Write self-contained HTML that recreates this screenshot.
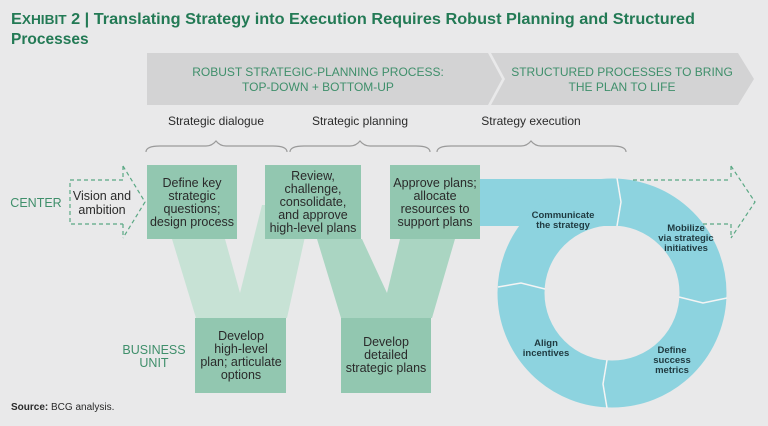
<!DOCTYPE html>
<html><head><meta charset="utf-8"><style>
html,body{margin:0;padding:0;background:#e9e9ea;}
body{width:768px;height:421px;overflow:hidden;font-family:"Liberation Sans",sans-serif;}
svg text{font-family:"Liberation Sans",sans-serif;}
</style></head><body>
<svg width="768" height="421" viewBox="0 0 768 421" xmlns="http://www.w3.org/2000/svg">
<rect width="768" height="421" fill="#e9e9ea"/>
<text x="11" y="24" font-size="15.5" font-weight="bold" fill="#237a55" textLength="684" lengthAdjust="spacingAndGlyphs">E<tspan font-size="13">XHIBIT</tspan> 2 | Translating Strategy into Execution Requires Robust Planning and Structured</text>
<text x="11" y="44" font-size="15.5" font-weight="bold" fill="#237a55">Processes</text>
<!-- chevrons -->
<polygon points="147,53 488,53 502,79 488,105 147,105" fill="#d3d3d4"/>
<polygon points="491,53 738,53 754,79 738,105 491,105 505,79" fill="#d3d3d4"/>
<g font-size="12" fill="#3f8f6b" text-anchor="middle">
<text x="318" y="76">ROBUST STRATEGIC-PLANNING PROCESS:</text>
<text x="318" y="91">TOP-DOWN + BOTTOM-UP</text>
<text x="622" y="76">STRUCTURED PROCESSES TO BRING</text>
<text x="622" y="91">THE PLAN TO LIFE</text>
</g>
<g font-size="12" fill="#2a2a2a" text-anchor="middle">
<text x="216" y="125">Strategic dialogue</text>
<text x="360" y="125">Strategic planning</text>
<text x="531" y="125">Strategy execution</text>
</g>
<g fill="none" stroke="#9a9a9a" stroke-width="1.2">
<path d="M146,152 Q146,146 160,146 L206,146 Q212,146 216,141 Q220,146 226,146 L273,146 Q287,146 287,152"/>
<path d="M290,152 Q290,146 304,146 L350,146 Q356,146 360,141 Q364,146 370,146 L416,146 Q430,146 430,152"/>
<path d="M437,152 Q437,146 451,146 L521,146 Q527,146 531,141 Q535,146 541,146 L612,146 Q626,146 626,152"/>
</g>
<!-- W shape -->
<polygon points="172,239 225,239 240,293 262,205 312,205 287,318 196,318" fill="#c7e2d5"/>
<polygon points="317,239 362,239 387,293 400,239 455,239 432,318 341,318" fill="#aad5c2"/>
<!-- dashed left arrow -->
<path d="M123,180 L70,180 L70,224 L123,224 M123,166 L145,202 L123,238 M123,166 L123,180 M123,224 L123,238" fill="none" stroke="#5aa884" stroke-width="1.2" stroke-dasharray="4,3"/>
<text x="36" y="207" font-size="12.5" fill="#3f8f6b" text-anchor="middle">CENTER</text>
<g font-size="12.5" fill="#2a2a2a" text-anchor="middle">
<text x="102" y="200">Vision and</text><text x="102" y="214">ambition</text>
</g>
<!-- blue bar -->
<rect x="470" y="179" width="150" height="47" fill="#8dd3df"/>
<!-- boxes -->
<g fill="#92c7b0">
<rect x="147" y="165" width="90" height="74"/>
<rect x="265" y="165" width="96" height="74"/>
<rect x="390" y="165" width="90" height="74"/>
<rect x="195" y="318" width="91" height="75"/>
<rect x="341" y="318" width="90" height="75"/>
</g>
<g font-size="12.5" fill="#2a2a2a" text-anchor="middle">
<text x="192" y="187">Define key</text><text x="192" y="200">strategic</text><text x="192" y="213">questions;</text><text x="192" y="226">design process</text>
<text x="313" y="180">Review,</text><text x="313" y="193">challenge,</text><text x="313" y="206">consolidate,</text><text x="313" y="219">and approve</text><text x="313" y="232">high-level plans</text>
<text x="435" y="187">Approve plans;</text><text x="435" y="200">allocate</text><text x="435" y="213">resources to</text><text x="435" y="226">support plans</text>
<text x="241" y="340">Develop</text><text x="241" y="353">high-level</text><text x="241" y="366">plan; articulate</text><text x="241" y="379">options</text>
<text x="386" y="346">Develop</text><text x="386" y="359">detailed</text><text x="386" y="372">strategic plans</text>
</g>
<g font-size="12.5" fill="#3f8f6b" text-anchor="middle">
<text x="154" y="354">BUSINESS</text><text x="154" y="367">UNIT</text>
</g>
<!-- ring -->
<circle cx="612" cy="293" r="91" fill="none" stroke="#8dd3df" stroke-width="47"/>
<g stroke="#f4f4f4" stroke-width="1.5" fill="none">
<path d="M617,178 L621,202 L617,226"/>
<path d="M727,298 L703,303 L679,297"/>
<path d="M607,408 L603,384 L607,360"/>
<path d="M498,287 L521,283 L545,289"/>
</g>
<!-- dashed right arrow -->
<path d="M633,180 L731,180 M703,224 L731,224 M731,166 L755,202 L731,238 M731,166 L731,180 M731,224 L731,238" fill="none" stroke="#5aa884" stroke-width="1.2" stroke-dasharray="4,3"/>
<g font-size="9.5" fill="#1f3a40" text-anchor="middle" font-weight="bold">
<text x="563" y="218">Communicate</text><text x="563" y="228">the strategy</text>
<text x="686" y="231">Mobilize</text><text x="686" y="241">via strategic</text><text x="686" y="251">initiatives</text>
<text x="546" y="346">Align</text><text x="546" y="356">incentives</text>
<text x="672" y="353">Define</text><text x="672" y="363">success</text><text x="672" y="373">metrics</text>
</g>
<text x="11" y="410" font-size="10" fill="#2a2a2a"><tspan font-weight="bold">Source:</tspan> BCG analysis.</text>
</svg>
</body></html>
